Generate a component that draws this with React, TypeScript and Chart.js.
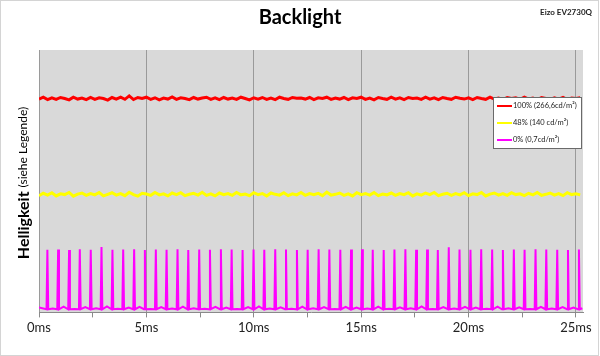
import React, { useEffect, useRef } from "react";
import { Chart, registerables } from "chart.js";

Chart.register(...registerables);

// ---------- data ----------
const chartTitle = "Backlight";
const deviceLabel = "Eizo EV2730Q";
const yTitleMain = "Helligkeit";
const yTitleSub = "(siehe Legende)";

const seriesLabels = ["100% (266,6cd/m²)", "48% (140 cd/m²)", "0% (0,7cd/m²)"];
const seriesColors = ["#ff0000", "#ffff00", "#ff00ff"];

const xTickValues = [0, 2.5, 5, 7.5, 10, 12.5, 15, 17.5, 20, 22.5, 25];
const xLabelledTicks = [0, 5, 10, 15, 20, 25];
const xMaxMs = 25.33;
const sampleStepMs = 0.2;

// 100% backlight trace (relative brightness units, sampled every 0.2 ms)
const red100 = [
  81.3, 82.0, 81.1, 81.8, 81.2, 81.9, 81.5, 81.0, 82.0, 81.3,
  81.7, 81.1, 81.9, 81.2, 81.8, 81.5, 80.9, 81.9, 81.3, 82.0,
  81.2, 82.5, 81.1, 81.9, 81.5, 82.0, 81.2, 81.8, 81.0, 81.7,
  81.3, 82.1, 81.2, 81.8, 81.5, 81.1, 81.9, 81.3, 81.7, 82.0,
  81.2, 81.8, 81.1, 81.9, 81.3, 81.7, 81.2, 82.0, 81.5, 81.0,
  81.8, 81.3, 81.9, 81.2, 81.7, 81.1, 82.0, 81.5, 81.2, 81.9,
  81.6, 81.7, 81.3, 81.9, 81.1, 81.8, 81.5, 82.0, 81.2, 81.7,
  81.3, 81.9, 81.1, 81.8, 81.5, 82.0, 81.2, 81.7, 81.0, 81.9,
  81.5, 81.2, 82.0, 81.3, 81.8, 81.1, 81.9, 81.5, 81.7, 81.2,
  82.0, 81.3, 81.8, 81.1, 81.9, 81.5, 81.2, 82.0, 81.6, 81.3,
  81.8, 81.1, 81.9, 81.5, 81.2, 82.0, 81.3, 81.7, 81.1, 81.9,
  81.5, 81.8, 81.2, 82.0, 81.3, 81.7, 81.1, 81.9, 81.5, 81.2,
  81.8, 81.3, 81.9, 81.1, 81.7, 81.5, 81.8,
];

// 48% backlight trace
const yellow48 = [
  44.5, 45.4, 44.7, 45.6, 44.4, 45.2, 44.9, 45.7, 44.3, 45.1,
  45.5, 44.6, 45.3, 44.8, 45.7, 44.4, 45.0, 45.6, 44.7, 45.3,
  44.5, 45.8, 44.9, 44.3, 45.4, 45.1, 44.6, 45.7, 44.8, 45.2,
  44.4, 45.5, 44.9, 45.6, 44.5, 45.0, 45.4, 44.7, 45.8, 44.6,
  45.2, 44.4, 45.5, 44.9, 45.3, 44.6, 45.7, 44.8, 45.1, 44.5,
  45.6, 44.9, 45.3, 44.4, 45.5, 45.0, 44.7, 45.6, 44.5, 45.2,
  44.8, 45.7, 44.6, 45.3, 44.9, 45.4, 44.5, 45.8, 44.7, 45.0,
  45.5, 44.6, 45.2, 44.4, 45.6, 44.9, 45.3, 44.7, 45.7, 44.5,
  45.1, 44.8, 45.5, 44.6, 45.3, 44.9, 45.6, 44.4, 45.2, 44.7,
  45.5, 44.9, 45.7, 44.5, 45.0, 45.4, 44.6, 45.3, 44.8, 45.6,
  44.5, 45.2, 44.9, 45.7, 44.4, 45.1, 45.5, 44.7, 45.3, 44.6,
  45.6, 44.9, 45.2, 44.5, 45.4, 44.8, 45.7, 44.6, 45.0, 45.5,
  44.7, 45.3, 44.5, 45.6, 44.9, 45.2, 44.8,
];

// 0% backlight: PWM spike times (ms) and peak heights
const magentaSpikeTimes = [
  0.39, 0.89, 1.40, 1.90, 2.41, 2.91, 3.42, 3.92, 4.43, 4.93,
  5.44, 5.94, 6.45, 6.95, 7.46, 7.96, 8.47, 8.97, 9.48, 9.99,
  10.49, 11.00, 11.50, 12.01, 12.51, 13.02, 13.52, 14.03, 14.53, 15.04,
  15.54, 16.05, 16.55, 17.06, 17.56, 18.07, 18.57, 19.08, 19.58, 20.09,
  20.59, 21.10, 21.60, 22.11, 22.61, 23.12, 23.62, 24.13, 24.63, 25.14,
];
const magentaSpikeHeights = [
  23.9, 24.0, 23.8, 24.1, 23.9, 24.9, 23.9, 24.0, 24.1, 23.8,
  24.0, 23.9, 24.1, 23.8, 24.0, 23.9, 24.1, 24.0, 23.8, 24.0,
  23.9, 24.1, 24.0, 23.8, 23.9, 24.1, 24.0, 23.9, 24.0, 24.1,
  23.9, 23.8, 24.0, 24.1, 23.9, 24.0, 23.8, 24.8, 24.0, 23.9,
  24.1, 24.0, 23.8, 24.0, 23.9, 24.1, 24.0, 23.9, 23.8, 24.0,
];
// baseline level between spikes (before first, between each pair, after last)
const magentaBaseline = [
  1.9, 1.5, 2.2, 1.3, 2.0, 1.6, 2.3, 1.4, 1.8, 2.1,
  1.3, 2.0, 1.5, 2.2, 1.6, 1.4, 2.1, 1.8, 1.3, 2.0,
  2.3, 1.5, 1.9, 1.4, 2.2, 1.6, 2.0, 1.3, 2.1, 1.8,
  1.5, 2.2, 1.4, 1.9, 1.6, 2.3, 1.3, 2.0, 1.5, 2.1,
  1.8, 1.4, 2.2, 1.6, 1.9, 1.3, 2.1, 1.5, 2.0, 1.8,
  1.6,
];
const magentaFootLevel = 1.2;
const spikeHalfWidthMs = 0.04;
const traceEndMs = 25.3;

// ---------- build point tables ----------
const toPoints = (vals: number[]) => vals.map((v, i) => ({ x: i * sampleStepMs, y: v }));

function buildMagenta() {
  const pts: { x: number; y: number }[] = [{ x: 0, y: magentaBaseline[0] }];
  magentaSpikeTimes.forEach((t, i) => {
    pts.push({ x: t - spikeHalfWidthMs, y: magentaFootLevel });
    pts.push({ x: t, y: magentaSpikeHeights[i] });
    pts.push({ x: t + spikeHalfWidthMs, y: magentaFootLevel });
    const next = i < magentaSpikeTimes.length - 1 ? (t + magentaSpikeTimes[i + 1]) / 2 : traceEndMs;
    pts.push({ x: next, y: magentaBaseline[i + 1] });
  });
  return pts;
}

const FONT = 'Lato, "Open Sans", "DejaVu Sans", sans-serif';

const decorPlugin = {
  id: "decor",
  beforeDraw(chart: any) {
    const { ctx, chartArea: a } = chart;
    ctx.save();
    ctx.fillStyle = "#ffffff";
    ctx.fillRect(0, 0, chart.width, chart.height);
    ctx.fillStyle = "#d9d9d9";
    ctx.fillRect(a.left, a.top, a.right - a.left, a.bottom - a.top);
    ctx.restore();
  },
  afterDraw(chart: any) {
    const { ctx } = chart;
    ctx.save();
    // outer border
    ctx.strokeStyle = "#d4d4d4";
    ctx.lineWidth = 1;
    ctx.strokeRect(0.5, 0.5, chart.width - 2, chart.height - 1);

    // title
    ctx.fillStyle = "#000";
    ctx.textAlign = "center";
    ctx.textBaseline = "middle";
    ctx.font = `bold 20px ${FONT}`;
    ctx.fillText(chartTitle, 300, 18);

    // device label
    ctx.font = `bold 8px ${FONT}`;
    ctx.textAlign = "right";
    ctx.fillStyle = "#222";
    ctx.fillText(deviceLabel, 592, 12);

    // y title (rotated, mixed fonts)
    ctx.translate(24, 183);
    ctx.rotate(-Math.PI / 2);
    ctx.textBaseline = "middle";
    ctx.textAlign = "left";
    const mainFont = `bold 16px ${FONT}`;
    const subFont = `12px ${FONT}`;
    ctx.font = mainFont;
    const w1 = ctx.measureText(yTitleMain + " ").width;
    ctx.font = subFont;
    const w2 = ctx.measureText(yTitleSub).width;
    const start = -(w1 + w2) / 2;
    ctx.fillStyle = "#000";
    ctx.font = mainFont;
    ctx.fillText(yTitleMain, start, 0);
    ctx.font = subFont;
    ctx.fillText(yTitleSub, start + w1, -1);
    ctx.restore();

    // legend
    ctx.save();
    const bx = 493.5, by = 97.5, bw = 88, bh = 51;
    ctx.fillStyle = "#ffffff";
    ctx.fillRect(bx, by, bw, bh);
    ctx.strokeStyle = "#6a6a6a";
    ctx.lineWidth = 1;
    ctx.strokeRect(bx, by, bw, bh);
    ctx.font = `7.5px ${FONT}`;
    ctx.textAlign = "left";
    ctx.textBaseline = "middle";
    const rows = [106, 123, 140];
    seriesLabels.forEach((lab, i) => {
      ctx.strokeStyle = seriesColors[i];
      ctx.lineWidth = 2;
      ctx.beginPath();
      ctx.moveTo(497, rows[i]);
      ctx.lineTo(512, rows[i]);
      ctx.stroke();
      ctx.fillStyle = "#222";
      ctx.fillText(lab, 513, rows[i]);
    });
    ctx.restore();
  },
};

export default function App() {
  const ref = useRef<HTMLCanvasElement | null>(null);

  useEffect(() => {
    document.body.style.margin = "0";
    if (!ref.current) return;
    const chart = new Chart(ref.current, {
      type: "line",
      data: {
        datasets: [
          { label: seriesLabels[0], data: toPoints(red100), borderColor: seriesColors[0], borderWidth: 3 },
          { label: seriesLabels[1], data: toPoints(yellow48), borderColor: seriesColors[1], borderWidth: 3 },
          { label: seriesLabels[2], data: buildMagenta(), borderColor: seriesColors[2], borderWidth: 2 },
        ],
      },
      options: {
        animation: false,
        responsive: false,
        parsing: false,
        elements: { point: { radius: 0 }, line: { tension: 0 } },
        layout: { padding: { left: 39, right: 17, top: 50, bottom: 17 } },
        plugins: { legend: { display: false }, title: { display: false }, tooltip: { enabled: false } },
        scales: {
          x: {
            type: "linear",
            min: 0,
            max: xMaxMs,
            afterBuildTicks: (axis: any) => {
              axis.ticks = xTickValues.map((v) => ({ value: v }));
            },
            ticks: {
              autoSkip: false,
              maxRotation: 0,
              padding: 3,
              color: "#222",
              font: { family: FONT, size: 13 },
              callback: (v: any) => (xLabelledTicks.includes(Number(v)) ? `${v}ms` : ""),
            },
            grid: {
              color: (c: any) =>
                c.tick && xLabelledTicks.includes(c.tick.value) ? "#9a9a9a" : "rgba(0,0,0,0)",
              tickColor: "#8a8a8a",
              tickLength: 5,
            },
            border: { display: true, color: "#8a8a8a" },
          },
          y: { display: false, min: 0, max: 100 },
        },
      },
      plugins: [decorPlugin],
    } as any);
    return () => chart.destroy();
  }, []);

  return (
    <div style={{ width: 600, height: 356 }}>
      <canvas ref={ref} width={600} height={356} style={{ display: "block" }} />
    </div>
  );
}
